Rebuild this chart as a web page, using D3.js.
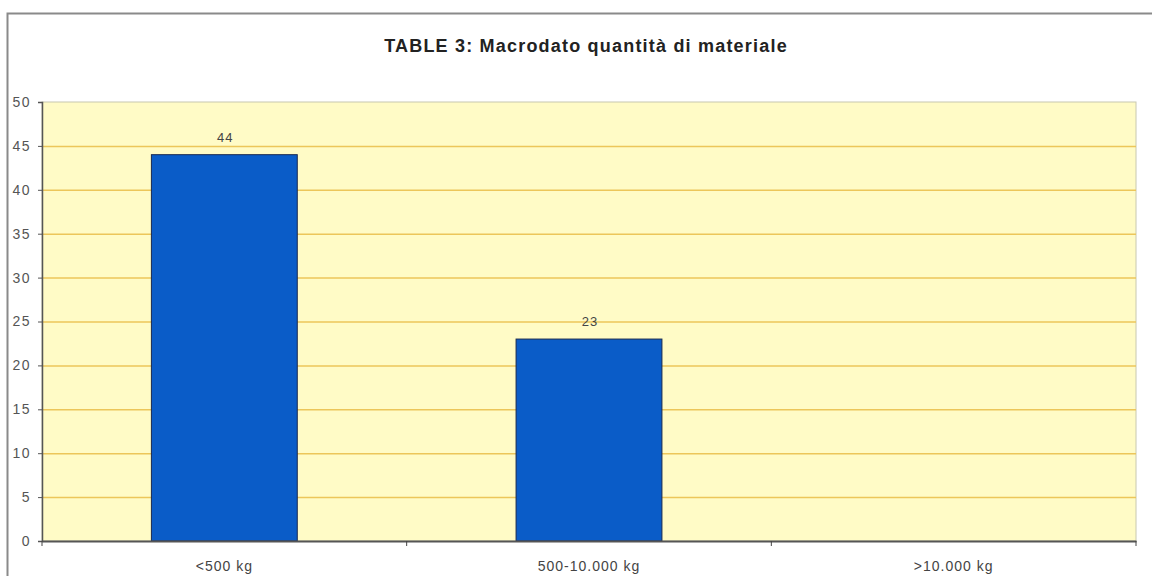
<!DOCTYPE html>
<html>
<head>
  <meta charset="utf-8">
  <title>TABLE 3: Macrodato quantità di materiale</title>
  <style>
    body { margin: 0; background: #fff; }
    svg { display: block; font-family: "Liberation Sans", Arial, sans-serif; }
  </style>
  <script src="https://cdn.jsdelivr.net/npm/d3@7/dist/d3.min.js"></script>
</head>
<body>
<script>
  // dati
  var categories = ['<500 kg', '500-10.000 kg', '>10.000 kg'];
  var values = [44, 23, 0];
  var yTicks = [0, 5, 10, 15, 20, 25, 30, 35, 40, 45, 50];
  var title = 'TABLE 3: Macrodato quantità di materiale';

  var W = 1152, H = 576;
  var m = { left: 42, top: 102, right: 16, bottom: 35 };

  var svg = d3.select('body').append('svg')
    .attr('width', W)
    .attr('height', H);

  // cornice esterna
  svg.append('rect')
    .attr('x', 7.5).attr('y', 13.5)
    .attr('width', W + 10).attr('height', H + 10)
    .attr('fill', '#fff')
    .attr('stroke', '#8a8a8a')
    .attr('stroke-width', 2);

  var x = d3.scaleBand()
    .domain(categories)
    .range([m.left, W - m.right])
    .paddingInner(0)
    .paddingOuter(0);

  var y = d3.scaleLinear()
    .domain([0, 50])
    .range([H - m.bottom, m.top]);

  // sfondo area del grafico
  svg.append('rect')
    .attr('x', m.left).attr('y', y(50))
    .attr('width', x.range()[1] - m.left)
    .attr('height', y(0) - y(50))
    .attr('fill', '#fffbc6')
    .attr('stroke', '#c8c8b0')
    .attr('stroke-width', 1);

  // griglia
  svg.selectAll('.grid')
    .data(yTicks.filter(d => d > 0 && d < 50))
    .enter().append('line')
    .attr('x1', m.left).attr('x2', x.range()[1])
    .attr('y1', d => y(d) + 0.5).attr('y2', d => y(d) + 0.5)
    .attr('stroke', '#ecc65a')
    .attr('stroke-width', 1.5);

  // barre
  var bw = x.bandwidth() * 0.4;
  svg.selectAll('.bar')
    .data(values)
    .enter().append('rect')
    .attr('x', (d, i) => x(categories[i]) + (x.bandwidth() - bw) / 2)
    .attr('y', d => y(d))
    .attr('width', bw)
    .attr('height', d => y(0) - y(d))
    .attr('fill', d => d > 0 ? '#0a5cc8' : 'none')
    .attr('stroke', d => d > 0 ? '#1a2a50' : 'none')
    .attr('stroke-width', 1);

  // etichette valori
  svg.selectAll('.val')
    .data(values)
    .enter().filter(d => d > 0).append('text')
    .attr('x', (d, i) => x(categories[values.indexOf(d)]) + x.bandwidth() / 2 + 1)
    .attr('y', d => y(d) - 13)
    .attr('text-anchor', 'middle')
    .attr('font-size', 13)
    .attr('letter-spacing', 1)
    .attr('fill', '#444')
    .text(d => d);

  // asse Y
  var yAxis = svg.append('g')
    .attr('transform', 'translate(' + m.left + ',0)')
    .call(d3.axisLeft(y).tickValues(yTicks).tickSize(4).tickPadding(7));
  yAxis.select('.domain').attr('stroke', '#555').attr('stroke-width', 1.5);
  yAxis.selectAll('.tick line').attr('stroke', '#555');
  yAxis.selectAll('text').attr('font-size', 14).attr('fill', '#555')
    .attr('letter-spacing', 1.5)
    .attr('font-family', '"Liberation Sans", Arial, sans-serif');

  // asse X
  var xAxis = svg.append('g')
    .attr('transform', 'translate(0,' + y(0) + ')')
    .call(d3.axisBottom(x).tickSize(0).tickPadding(20));
  xAxis.select('.domain').attr('stroke', '#555').attr('stroke-width', 2);
  xAxis.selectAll('text').attr('font-size', 14).attr('fill', '#444')
    .attr('letter-spacing', 1)
    .attr('font-family', '"Liberation Sans", Arial, sans-serif');

  // tacche ai confini delle categorie
  var bounds = categories.map(c => x(c)).concat([x.range()[1]]);
  svg.selectAll('.xt')
    .data(bounds)
    .enter().append('line')
    .attr('x1', d => d).attr('x2', d => d)
    .attr('y1', y(0)).attr('y2', y(0) + 5)
    .attr('stroke', '#444');

  // titolo
  svg.append('text')
    .attr('x', W / 2 + 10)
    .attr('y', 52)
    .attr('text-anchor', 'middle')
    .attr('font-size', 18)
    .attr('letter-spacing', 1.2)
    .attr('font-weight', 'bold')
    .attr('fill', '#222')
    .text(title);
</script>
</body>
</html>
